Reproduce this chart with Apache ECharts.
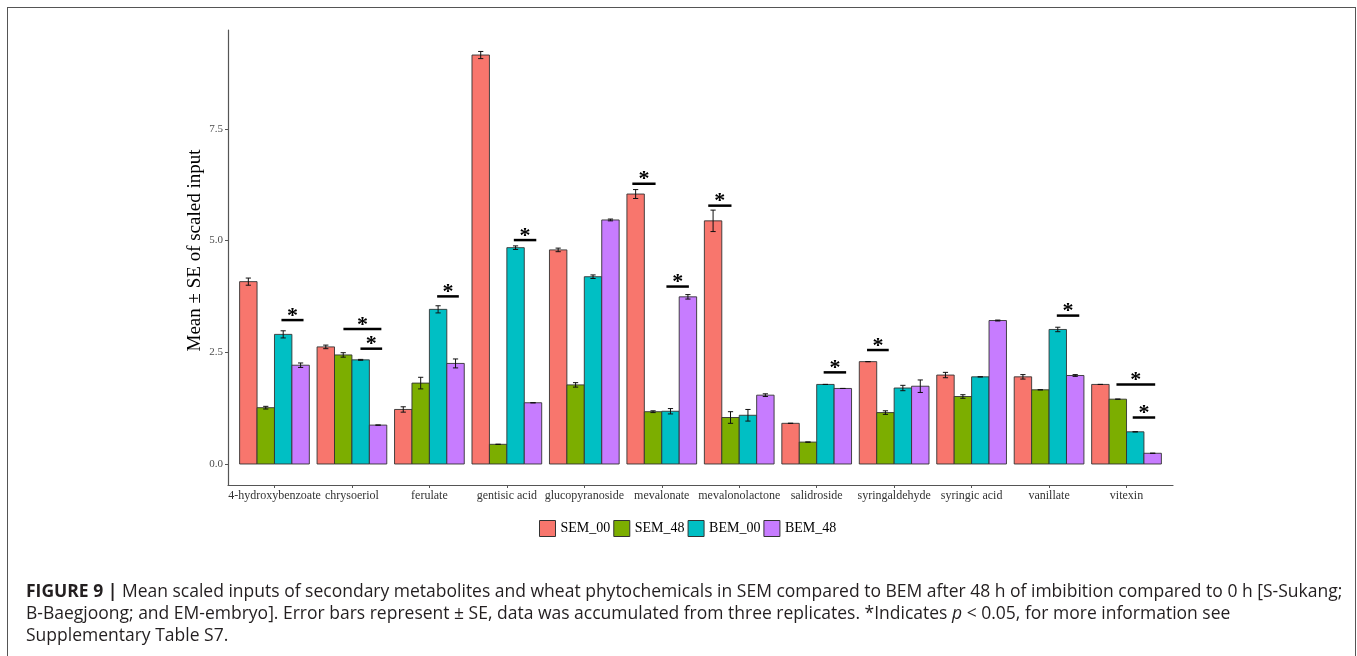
<!DOCTYPE html>
<html>
<head>
<meta charset="utf-8">
<script src="https://cdn.jsdelivr.net/npm/echarts@6/dist/echarts.min.js"></script>
<style>
  html, body { margin: 0; padding: 0; background: #fff; }
  #frame { position: absolute; left: 7px; top: 7px; width: 1349px; height: 700px;
           border: 1.5px solid #555; border-bottom: none; box-sizing: border-box; }
  #chart { position: absolute; left: 0; top: 0; width: 1357px; height: 656px; }
</style>
</head>
<body>
<div id="frame"></div>
<div id="chart"></div>
<script>
const categories = ['4-hydroxybenzoate', 'chrysoeriol', 'ferulate', 'gentisic acid', 'glucopyranoside',
  'mevalonate', 'mevalonolactone', 'salidroside', 'syringaldehyde', 'syringic acid', 'vanillate', 'vitexin'];
const seriesNames = ['SEM_00', 'SEM_48', 'BEM_00', 'BEM_48'];

const sem00   = [4.08, 2.62, 1.22, 9.15, 4.79, 6.04, 5.44, 0.91, 2.29, 1.99, 1.95, 1.78];
const sem00SE = [0.08, 0.04, 0.06, 0.08, 0.04, 0.10, 0.24, 0.00, 0.00, 0.06, 0.05, 0.00];
const sem48   = [1.26, 2.44, 1.81, 0.44, 1.77, 1.17, 1.04, 0.49, 1.15, 1.51, 1.66, 1.45];
const sem48SE = [0.03, 0.05, 0.13, 0.00, 0.05, 0.02, 0.13, 0.00, 0.04, 0.04, 0.00, 0.00];
const bem00   = [2.90, 2.33, 3.46, 4.84, 4.19, 1.18, 1.09, 1.78, 1.70, 1.95, 3.01, 0.72];
const bem00SE = [0.08, 0.01, 0.08, 0.04, 0.04, 0.06, 0.13, 0.00, 0.06, 0.00, 0.05, 0.00];
const bem48   = [2.21, 0.87, 2.25, 1.37, 5.46, 3.74, 1.54, 1.69, 1.74, 3.21, 1.98, 0.24];
const bem48SE = [0.05, 0.00, 0.10, 0.00, 0.02, 0.05, 0.03, 0.00, 0.14, 0.01, 0.02, 0.00];

const yTicks = [0, 2.5, 5, 7.5];

// significance brackets: category index, start offset, end offset (category units), height (data units)
const sigCat  = [0, 1, 1, 2, 3, 5, 5, 6, 7, 8, 10, 11, 11];
const sigFrom = [0.09, -0.11, 0.11, 0.10, 0.09, -0.38, 0.06, -0.40, 0.09, -0.35, 0.10, -0.13, 0.08];
const sigTo   = [0.375, 0.38, 0.39, 0.38, 0.38, -0.08, 0.35, -0.10, 0.38, -0.07, 0.39, 0.37, 0.37];
const sigY    = [3.22, 3.02, 2.58, 3.75, 5.01, 6.27, 3.97, 5.78, 2.05, 2.55, 3.32, 1.78, 1.04];

const colors = ['#F8766D', '#7CAE00', '#00BFC4', '#C77CFF'];
const values = [sem00, sem48, bem00, bem48];
const errors = [sem00SE, sem48SE, bem00SE, bem48SE];
const dodge = 0.9, nGroups = 4, barW = dodge / nGroups;

const chart = echarts.init(document.getElementById('chart'), null, { renderer: 'canvas' });

const barSeries = seriesNames.map((name, s) => ({
  name: name,
  type: 'custom',
  clip: false,
  itemStyle: { color: colors[s], borderColor: '#333', borderWidth: 1 },
  encode: { x: 0, y: 1 },
  data: categories.map((c, i) => [i, values[s][i], errors[s][i]]),
  renderItem: function (params, api) {
    const xc = api.value(0) - dodge / 2 + barW * (s + 0.5);
    const v = api.value(1), se = api.value(2);
    const p0 = api.coord([xc - barW / 2, 0]);
    const p1 = api.coord([xc + barW / 2, v]);
    const pc = api.coord([xc, v]);
    const lo = api.coord([xc, v - se]);
    const hi = api.coord([xc, v + se]);
    const cap = 2.6;
    return {
      type: 'group',
      children: [
        { type: 'rect', shape: { x: p0[0], y: p1[1], width: p1[0] - p0[0], height: p0[1] - p1[1] },
          style: { fill: colors[s], stroke: '#333', lineWidth: 0.9 } },
        { type: 'line', shape: { x1: pc[0], y1: lo[1], x2: pc[0], y2: hi[1] }, style: { stroke: '#111', lineWidth: 1 } },
        { type: 'line', shape: { x1: pc[0] - cap, y1: lo[1], x2: pc[0] + cap, y2: lo[1] }, style: { stroke: '#111', lineWidth: 1 } },
        { type: 'line', shape: { x1: pc[0] - cap, y1: hi[1], x2: pc[0] + cap, y2: hi[1] }, style: { stroke: '#111', lineWidth: 1 } }
      ]
    };
  }
}));

const sigSeries = {
  name: 'sig',
  type: 'custom',
  clip: false,
  silent: true,
  encode: { x: 0, y: 2 },
  data: sigCat.map((c, k) => [c + sigFrom[k], c + sigTo[k], sigY[k]]),
  renderItem: function (params, api) {
    const a = api.coord([api.value(0), api.value(2)]);
    const b = api.coord([api.value(1), api.value(2)]);
    return {
      type: 'group',
      children: [
        { type: 'line', shape: { x1: a[0], y1: a[1], x2: b[0], y2: b[1] }, style: { stroke: '#000', lineWidth: 2.5 } },
        { type: 'text', x: (a[0] + b[0]) / 2, y: a[1] - 4,
          style: { text: '*', fill: '#000', font: 'bold 22px "Liberation Serif"', textAlign: 'center', textVerticalAlign: 'middle' } }
      ]
    };
  }
};

const option = {
  animation: false,
  backgroundColor: 'transparent',
  grid: { left: 228, right: 184, top: 30, bottom: 171, containLabel: false, outerBoundsMode: 'none' },
  xAxis: {
    type: 'value', min: -0.6, max: 11.6,
    splitLine: { show: false },
    axisLine: { show: true, onZero: false, lineStyle: { color: '#555', width: 1.2 } },
    axisTick: { show: true, length: 3, lineStyle: { color: '#555' }, customValues: categories.map((c, i) => i) },
    axisLabel: { show: true, margin: 5, color: '#333', fontFamily: 'Liberation Serif', fontSize: 12,
      customValues: categories.map((c, i) => i), formatter: v => categories[Math.round(v)] }
  },
  yAxis: {
    type: 'value', min: -0.47, max: 9.71,
    name: 'Mean ± SE of scaled input', nameLocation: 'middle', nameGap: 23, nameMoveOverlap: false,
    nameTextStyle: { fontFamily: 'Liberation Serif', fontSize: 19, color: '#000', padding: [0, 0, 0, 14] },
    splitLine: { show: false },
    axisLine: { show: true, onZero: false, lineStyle: { color: '#555', width: 1.2 } },
    axisTick: { show: true, length: 3, lineStyle: { color: '#555' }, customValues: yTicks },
    axisLabel: { show: true, margin: 5, color: '#4d4d4d', fontFamily: 'Liberation Serif', fontSize: 11,
      customValues: yTicks, formatter: v => v.toFixed(1) }
  },
  legend: {
    left: 534, top: 515, itemWidth: 16, itemHeight: 16, itemGap: 3, icon: 'rect',
    textStyle: { fontFamily: 'Liberation Serif', fontSize: 14, color: '#000' },
    data: seriesNames.map((n, s) => ({ name: n, itemStyle: { color: colors[s], borderColor: '#333', borderWidth: 1 } }))
  },
  title: {
    left: 21, top: 576,
    text: '{b|FIGURE 9 |} Mean scaled inputs of secondary metabolites and wheat phytochemicals in SEM compared to BEM after 48 h of imbibition compared to 0 h [S-Sukang;\n' +
          'B-Baegjoong; and EM-embryo]. Error bars represent ± SE, data was accumulated from three replicates. *Indicates {i|p} < 0.05, for more information see\n' +
          'Supplementary Table S7.',
    textStyle: {
      fontFamily: 'Open Sans', fontSize: 17.5, color: '#231f20', fontWeight: 'normal', lineHeight: 22,
      rich: {
        b: { fontFamily: 'Open Sans', fontSize: 17.5, fontWeight: 'bold', color: '#231f20', lineHeight: 22 },
        i: { fontFamily: 'Open Sans', fontSize: 17.5, fontStyle: 'italic', color: '#231f20', lineHeight: 22 }
      }
    }
  },
  series: barSeries.concat([sigSeries])
};

chart.setOption(option);
</script>
</body>
</html>
